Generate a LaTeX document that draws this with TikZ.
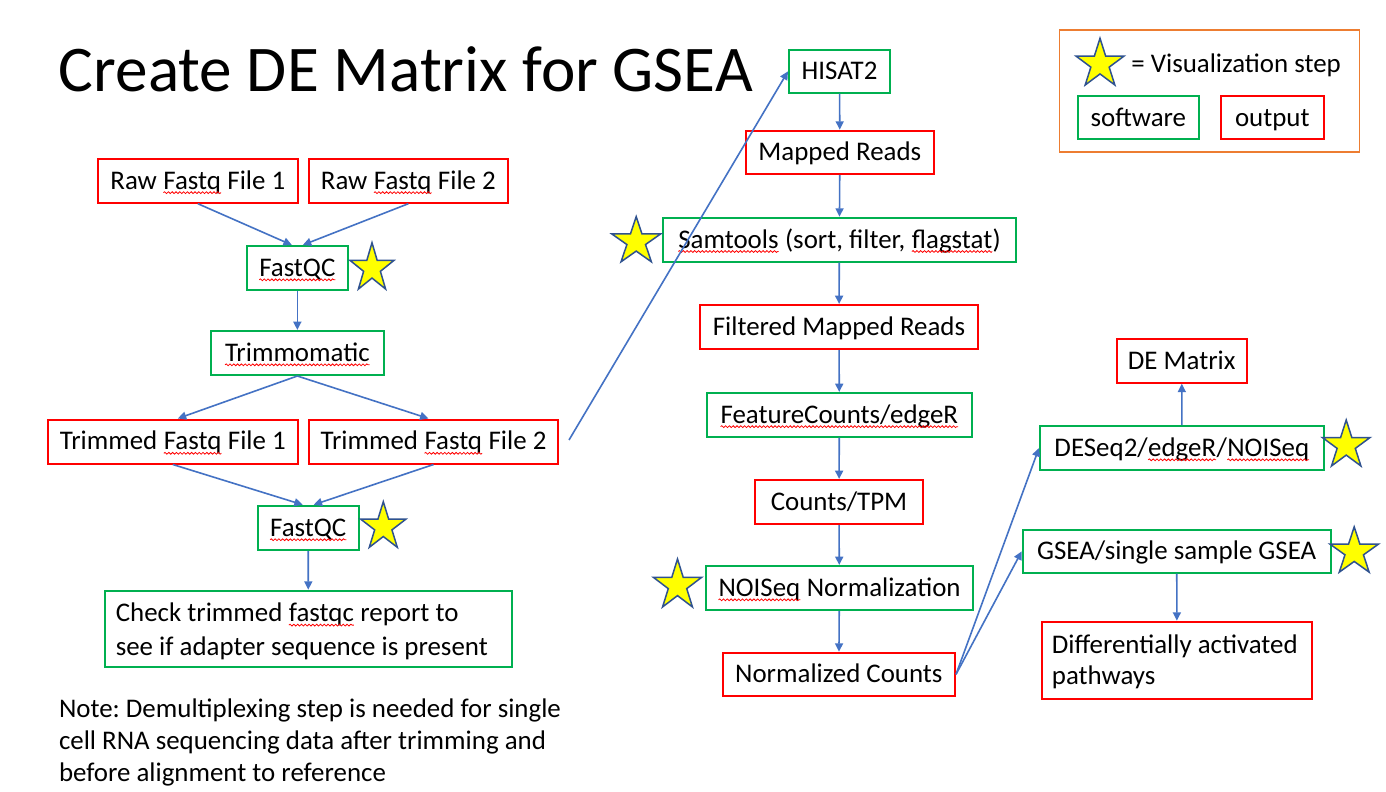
\documentclass[tikz,border=0pt]{standalone}
\usepackage{fontspec}
\setmainfont{Carlito}
\frenchspacing
\usetikzlibrary{arrows.meta,decorations.pathmorphing}
\definecolor{ored}{HTML}{FF0000}
\definecolor{sgreen}{HTML}{00B050}
\definecolor{ablue}{HTML}{4472C4}
\definecolor{lorange}{HTML}{ED7D31}
\definecolor{sborder}{HTML}{2F528F}
\definecolor{syellow}{HTML}{FFFF00}
\newcommand\squig[1]{\tikz[baseline=(sqw.base)]{\node[inner sep=0pt, outer sep=0pt, minimum width=0pt, minimum height=0pt, text width=, text height=, text depth=, align=none, draw=none, anchor=base] (sqw) at (0,0) {#1};
  \draw[red, line width=0.4pt, decorate, decoration={snake, amplitude=0.45pt, segment length=1.9pt}] ([yshift=-1.7pt]sqw.base west) -- ([yshift=-1.7pt]sqw.base east);}}
\newcommand\bodyfont{\fontsize{13.45pt}{16.15pt}\selectfont\frenchspacing}
\newcommand\vstar[4]{%
  \draw[starsty] (#1,{#2-#4})
  \foreach \k [evaluate=\k as \r using {ifthenelse(mod(\k,2)==0,1,0.382)}] in {1,...,9}
   { -- ({#1+\r*#3*cos(-90+36*\k)},{#2+\r*#4*sin(-90+36*\k)}) } -- cycle;}
\tikzset{
  sz/.style 2 args={minimum width=#1*0.5pt, minimum height=#2*0.5pt},
  boxbase/.style={draw, line width=1pt, inner sep=0pt, text height=9.6pt, text depth=1.2pt, font=\bodyfont},
  sw/.style={boxbase, draw=sgreen},
  op/.style={boxbase, draw=ored},
  arr/.style={-{Triangle[length=4.2pt,width=4pt]}, draw=ablue, line width=0.8pt},
  starsty/.style={fill=syellow, draw=sborder, line width=0.75pt, line join=miter},
  textline/.style={inner sep=0pt, font=\bodyfont, anchor=base west},
}
\begin{document}
\begin{tikzpicture}[x=0.5pt, y=-0.5pt]
\useasboundingbox (0,0) rectangle (1386,792);
\fill[white] (0,0) rectangle (1386,792);

% title
\node[anchor=base west, inner sep=0pt, font=\fontsize{32.6pt}{38pt}\selectfont] (title) at (58.5,91.7) {Create DE Matrix for GSEA};

% left column
\node[op, sz={200.3}{43.7}] (raw1) at (197.85,180.85) {Raw \squig{Fastq} File 1};
\node[op, sz={199.3}{43.7}] (raw2) at (408.35,180.85) {Raw \squig{Fastq} File 2};
\node[sw, sz={101.3}{44}] (fq1) at (297.35,268) {\squig{FastQC}};
\node[sw, sz={173.3}{44}] (trim) at (297.35,353) {\squig{Trimmomatic}};
\node[op, sz={250.4}{44}] (t1) at (172.8,441.5) {Trimmed \squig{Fastq} File 1};
\node[op, sz={249.7}{44}] (t2) at (433.5,441.5) {Trimmed \squig{Fastq} File 2};
\node[sw, sz={101}{44.3}] (fq2) at (308.2,527.9) {\squig{FastQC}};
\node[sw, sz={406.7}{76.6}] (check) at (308.35,629) {};
\node[textline] (checka) at (115.4,621.7) {Check trimmed \squig{fastqc} report to};
\node[textline] (checkb) at (115.4,655) {see if adapter sequence is present};
\node[textline] (notea) at (58.6,717.2) {Note: Demultiplexing step is needed for single};
\node[textline] (noteb) at (58.6,749.5) {cell RNA sequencing data after trimming and};
\node[textline] (notec) at (58.6,781.5) {before alignment to reference};

% middle column
\node[sw, sz={101}{42.7}] (hisat) at (839.5,71.35) {HISAT2};
\node[op, sz={188.3}{43.3}] (mapped) at (839.85,152.35) {Mapped Reads};
\node[sw, sz={353.3}{44}] (sam) at (839.35,239.7) {\squig{Samtools} (sort, filter, \squig{flagstat})};
\node[op, sz={278}{44}] (filt) at (839,327) {Filtered Mapped Reads};
\node[sw, sz={265.3}{43.7}] (fc) at (839.35,414.85) {\squig{FeatureCounts/edgeR}};
\node[op, sz={168}{44}] (counts) at (839,502) {Counts/TPM\ };
\node[sw, sz={267.3}{44}] (noiseq) at (839.35,588) {\squig{NOISeq} Normalization};
\node[op, sz={232.3}{43.3}] (norm) at (838.85,674.35) {Normalized Counts};

% right column
\node[op, sz={130}{43.7}] (dem) at (1181.7,360.85) {DE Matrix};
\node[sw, sz={284}{44}] (deseq) at (1182,448) {DESeq2/\squig{edgeR}/\squig{NOISeq}};
\node[sw, sz={308}{42.7}] (gsea) at (1176.7,551.35) {GSEA/single sample GSEA};
\node[op, sz={270.6}{77.3}] (diff) at (1177,660.35) {};
\node[textline] (diffa) at (1051.5,653.3) {Differentially activated};
\node[textline] (diffb) at (1051.5,684) {pathways};

% legend
\node[draw=lorange, line width=0.8pt, inner sep=0pt, sz={300}{121.7}] (legend) at (1209.3,90.85) {};
\node[textline] (legtext) at (1131,72.5) {= Visualization step};
\node[sw, sz={121.3}{43.3}] (soft) at (1138.35,117.65) {software};
\node[op, sz={103.3}{43.3}] (outp) at (1272.35,117.65) {output};

% connectors
\draw[arr] (raw1.south) -- ([xshift=-2.75pt]fq1.north);
\draw[arr] (raw2.south) -- ([xshift=2.75pt]fq1.north);
\draw[arr] (fq1) -- (trim);
\draw[arr] (trim.south) -- ([xshift=2.5pt]t1.north);
\draw[arr] (trim.south) -- ([xshift=-2.5pt]t2.north);
\draw[arr] (t1.south) -- ([xshift=-2.75pt]fq2.north);
\draw[arr] (t2.south) -- ([xshift=2.75pt]fq2.north);
\draw[arr] (fq2) -- (check);
\coordinate (t2out) at (569,440);
\draw[arr] (t2out) -- (hisat.west);
\draw[arr] (hisat) -- (mapped);
\draw[arr] (mapped) -- (sam);
\draw[arr] (sam) -- (filt);
\draw[arr] (filt) -- (fc);
\draw[arr] (fc) -- (counts);
\draw[arr] (counts) -- (noiseq);
\draw[arr] (noiseq) -- (norm);
\draw[arr] (norm.east) -- (deseq.west);
\draw[arr] (norm.east) -- (gsea.west);
\draw[arr] (deseq) -- (dem);
\draw[arr] (gsea) -- (diff);

% stars
\vstar{372}{268.3}{23.1}{25.6}
\vstar{383.3}{526.9}{23.8}{25.2}
\vstar{636.2}{241.6}{25.7}{24.9}
\vstar{677.5}{585.5}{25.4}{26.5}
\vstar{1346.2}{445.4}{25}{25.4}
\vstar{1354.2}{551.9}{25.4}{25}
\vstar{1100}{64.1}{25.2}{25.8}
\end{tikzpicture}
\end{document}
